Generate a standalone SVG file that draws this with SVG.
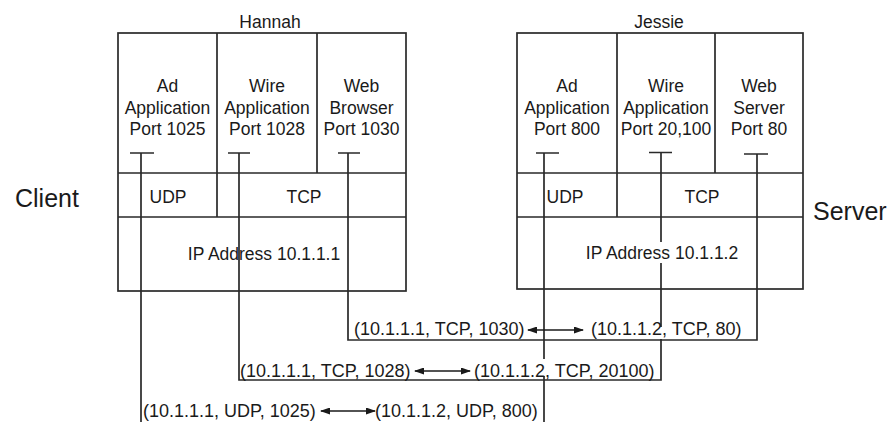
<svg xmlns="http://www.w3.org/2000/svg" width="890" height="422" viewBox="0 0 890 422">
<style>
text{font-family:"Liberation Sans",Arial,sans-serif;fill:#1a1a1a;font-size:17.5px}
.m{text-anchor:middle}
.big{font-size:25px}
.tp{font-size:18px}
.box{fill:#fff;stroke:#2a2a2a;stroke-width:1.7}
.ln{fill:none;stroke:#2a2a2a;stroke-width:1.7}
.ar{fill:none;stroke:#1a1a1a;stroke-width:1.4;marker-start:url(#ah);marker-end:url(#ah)}
</style>
<defs>
<marker id="ah" viewBox="0 0 10 7" refX="9" refY="3.5" markerWidth="10" markerHeight="7" markerUnits="userSpaceOnUse" orient="auto-start-reverse">
<path d="M0,0 L10,3.5 L0,7 z" fill="#1a1a1a"/>
</marker>
</defs>
<rect width="890" height="422" fill="#fff"/>

<g id="client-label"><text class="big" x="15" y="207">Client</text></g>
<g id="server-label"><text class="big" x="813" y="220">Server</text></g>

<g id="hannah">
<text class="m" x="270" y="28">Hannah</text>
<rect class="box" x="118" y="33" width="288" height="258"/>
<path class="ln" d="M118 173H406M118 217H406M217 33V217M317 33V173"/>
<text class="m" x="167.5" y="92">Ad</text>
<text class="m" x="167.5" y="113.5">Application</text>
<text class="m" x="167.5" y="135">Port 1025</text>
<text class="m" x="267" y="92">Wire</text>
<text class="m" x="267" y="113.5">Application</text>
<text class="m" x="267" y="135">Port 1028</text>
<text class="m" x="361.5" y="92">Web</text>
<text class="m" x="361.5" y="113.5">Browser</text>
<text class="m" x="361.5" y="135">Port 1030</text>
<text class="m" x="168" y="203">UDP</text>
<text class="m" x="304" y="203">TCP</text>
<text class="m" x="264" y="260">IP Address 10.1.1.1</text>
</g>

<g id="jessie">
<text class="m" x="659" y="28">Jessie</text>
<rect class="box" x="517" y="33" width="286" height="256"/>
<path class="ln" d="M517 173H803M517 217H803M617 33V217M715 33V173"/>
<text class="m" x="567" y="92">Ad</text>
<text class="m" x="567" y="113.5">Application</text>
<text class="m" x="567" y="135">Port 800</text>
<text class="m" x="666" y="92">Wire</text>
<text class="m" x="666" y="113.5">Application</text>
<text class="m" x="666" y="135">Port 20,100</text>
<text class="m" x="759" y="92">Web</text>
<text class="m" x="759" y="113.5">Server</text>
<text class="m" x="759" y="135">Port 80</text>
<text class="m" x="565" y="203">UDP</text>
<text class="m" x="702" y="203">TCP</text>
<text class="m" x="662" y="259">IP Address 10.1.1.2</text>
</g>

<g id="connectors">
<path class="ln" d="M130 153H154M228 153H250M338 153H360M536 153H559M649 152.5H672M744 154H768"/>
<path class="ln" d="M348 153V340H757V154"/>
<path class="ln" d="M239 153V380H661V339M661 327V263M661 242V152.5"/>
<path class="ln" d="M141 153V422M544 153V359M544 376V422"/>
<line class="ar" x1="528" y1="330" x2="583" y2="330"/>
<line class="ar" x1="415" y1="371" x2="470" y2="371"/>
<line class="ar" x1="321" y1="411" x2="375" y2="411"/>
</g>

<g id="tuples">
<text class="tp" x="354" y="335">(10.1.1.1, TCP, 1030)</text>
<text class="tp" x="591" y="335">(10.1.1.2, TCP, 80)</text>
<text class="tp" x="240" y="377">(10.1.1.1, TCP, 1028)</text>
<text class="tp" x="474" y="377">(10.1.1.2, TCP, 20100)</text>
<text class="tp" x="143" y="417">(10.1.1.1, UDP, 1025)</text>
<text class="tp" x="375" y="417">(10.1.1.2, UDP, 800)</text>
</g>
</svg>
